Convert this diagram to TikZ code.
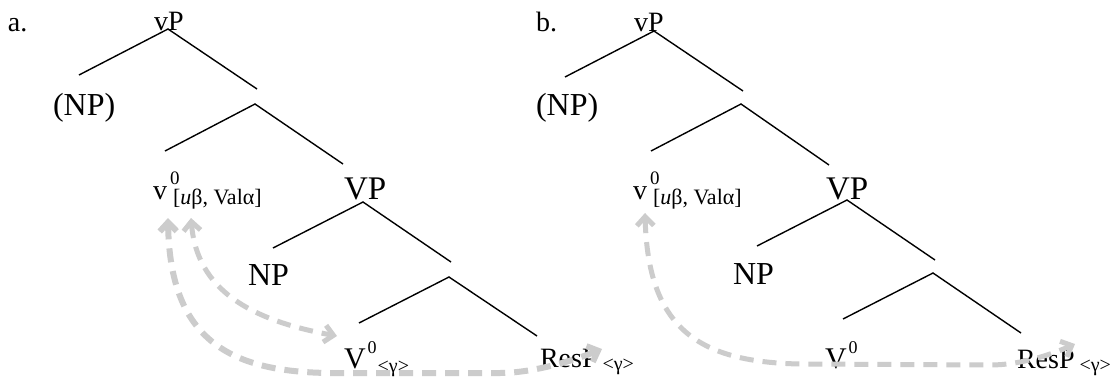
\documentclass[tikz,border=0pt]{standalone}
\usepackage{fontspec}
\setmainfont{Liberation Serif}
\usetikzlibrary{arrows.meta}
\newcommand{\fs}[1]{\fontsize{#1}{#1}\selectfont}
\tikzset{
  lbl/.style={anchor=base west, inner sep=0pt, outer sep=0pt},
  branch/.style={line width=1.4pt, black},
  move/.style={draw=gray!40, line width=5pt, dash pattern=on 14pt off 9pt,
    >={Straight Barb[length=9pt,width=17pt]}, <->},
}
\begin{document}
\begin{tikzpicture}[x=1pt,y=-1pt]
\useasboundingbox[fill=white] (0,0) rectangle (1115,381);

% ---------- tree a ----------
\node[lbl] (alab) at (8,31) {\fs{28}a.};
\node[lbl] (avP) at (154,30) {\fs{28}vP};
\node[lbl] (aNPo) at (53,115) {\fs{32}(NP)};
\node[lbl] (av) at (153,199) {\fs{28}v\rlap{\kern3pt\raisebox{15pt}{\fs{19}0}}\kern6pt\raisebox{-5pt}{\fs{22}[\textit{u}β, Valα]}};
\node[lbl] (aVP) at (344,199) {\fs{33}VP};
\node[lbl] (aNP) at (248,285) {\fs{32}NP};
\node[lbl] (aV) at (344,368) {\fs{30}V\kern2pt\raisebox{15pt}{\fs{18}0}\kern1pt\raisebox{-4pt}{\fs{20}<γ>}};
\node[lbl] (aRes) at (540,367) {\fs{28}ResP\kern5pt\raisebox{-3pt}{\fs{20}<γ>}};

\coordinate (a0) at (168,29);
\coordinate (a0l) at (79,75);
\coordinate (a0r) at (257,89);
\coordinate (a1) at (255,104);
\coordinate (a1l) at (165,151);
\coordinate (a1r) at (343,164);
\coordinate (a2) at (363,202);
\coordinate (a2l) at (273,248);
\coordinate (a2r) at (451,262);
\coordinate (a3) at (449,277);
\coordinate (a3l) at (359,323);
\coordinate (a3r) at (537,336);
\draw[branch] (a0l) -- (a0) -- (a0r);
\draw[branch] (a1l) -- (a1) -- (a1r);
\draw[branch] (a2l) -- (a2) -- (a2r);
\draw[branch] (a3l) -- (a3) -- (a3r);

% ---------- tree b ----------
\node[lbl] (blab) at (536,31) {\fs{28}b.};
\node[lbl] (bvP) at (634,31) {\fs{28}vP};
\node[lbl] (bNPo) at (536,115) {\fs{32}(NP)};
\node[lbl] (bv) at (633,199) {\fs{28}v\rlap{\kern3pt\raisebox{15pt}{\fs{19}0}}\kern6pt\raisebox{-5pt}{\fs{22}[\textit{u}β, Valα]}};
\node[lbl] (bVP) at (826,199) {\fs{33}VP};
\node[lbl] (bNP) at (733,284) {\fs{32}NP};
\node[lbl] (bV) at (825,368) {\fs{30}V\kern2pt\raisebox{15pt}{\fs{18}0}};
\node[lbl] (bRes) at (1017,368) {\fs{28}ResP\kern5pt\raisebox{-3pt}{\fs{20}<γ>}};

\coordinate (b0) at (654,31);
\coordinate (b0l) at (565,77);
\coordinate (b0r) at (743,91);
\coordinate (b1) at (741,104);
\coordinate (b1l) at (651,151);
\coordinate (b1r) at (829,165);
\coordinate (b2) at (847,200);
\coordinate (b2l) at (757,246);
\coordinate (b2r) at (935,260);
\coordinate (b3) at (933,273);
\coordinate (b3l) at (843,319);
\coordinate (b3r) at (1021,333);
\draw[branch] (b0l) -- (b0) -- (b0r);
\draw[branch] (b1l) -- (b1) -- (b1r);
\draw[branch] (b2l) -- (b2) -- (b2r);
\draw[branch] (b3l) -- (b3) -- (b3r);

% ---------- movement arrows ----------
\coordinate (avt1) at (168,218);
\coordinate (avt2) at (191,218);
\coordinate (aVt) at (337,336);
\coordinate (aRt) at (602,349);
\draw[move] (avt2) .. controls (197,290) and (250,320) .. (aVt);
\draw[move, line width=6pt] (avt1) .. controls (170,340) and (230,372) .. (330,373)
  -- (500,373) .. controls (530,373) and (570,362) .. (aRt);

\coordinate (bvt) at (645,213);
\coordinate (bRt) at (1075,344);
\draw[move] (bvt) .. controls (648,330) and (700,362) .. (800,364)
  -- (990,365) .. controls (1020,365) and (1050,355) .. (bRt);
\end{tikzpicture}
\end{document}
